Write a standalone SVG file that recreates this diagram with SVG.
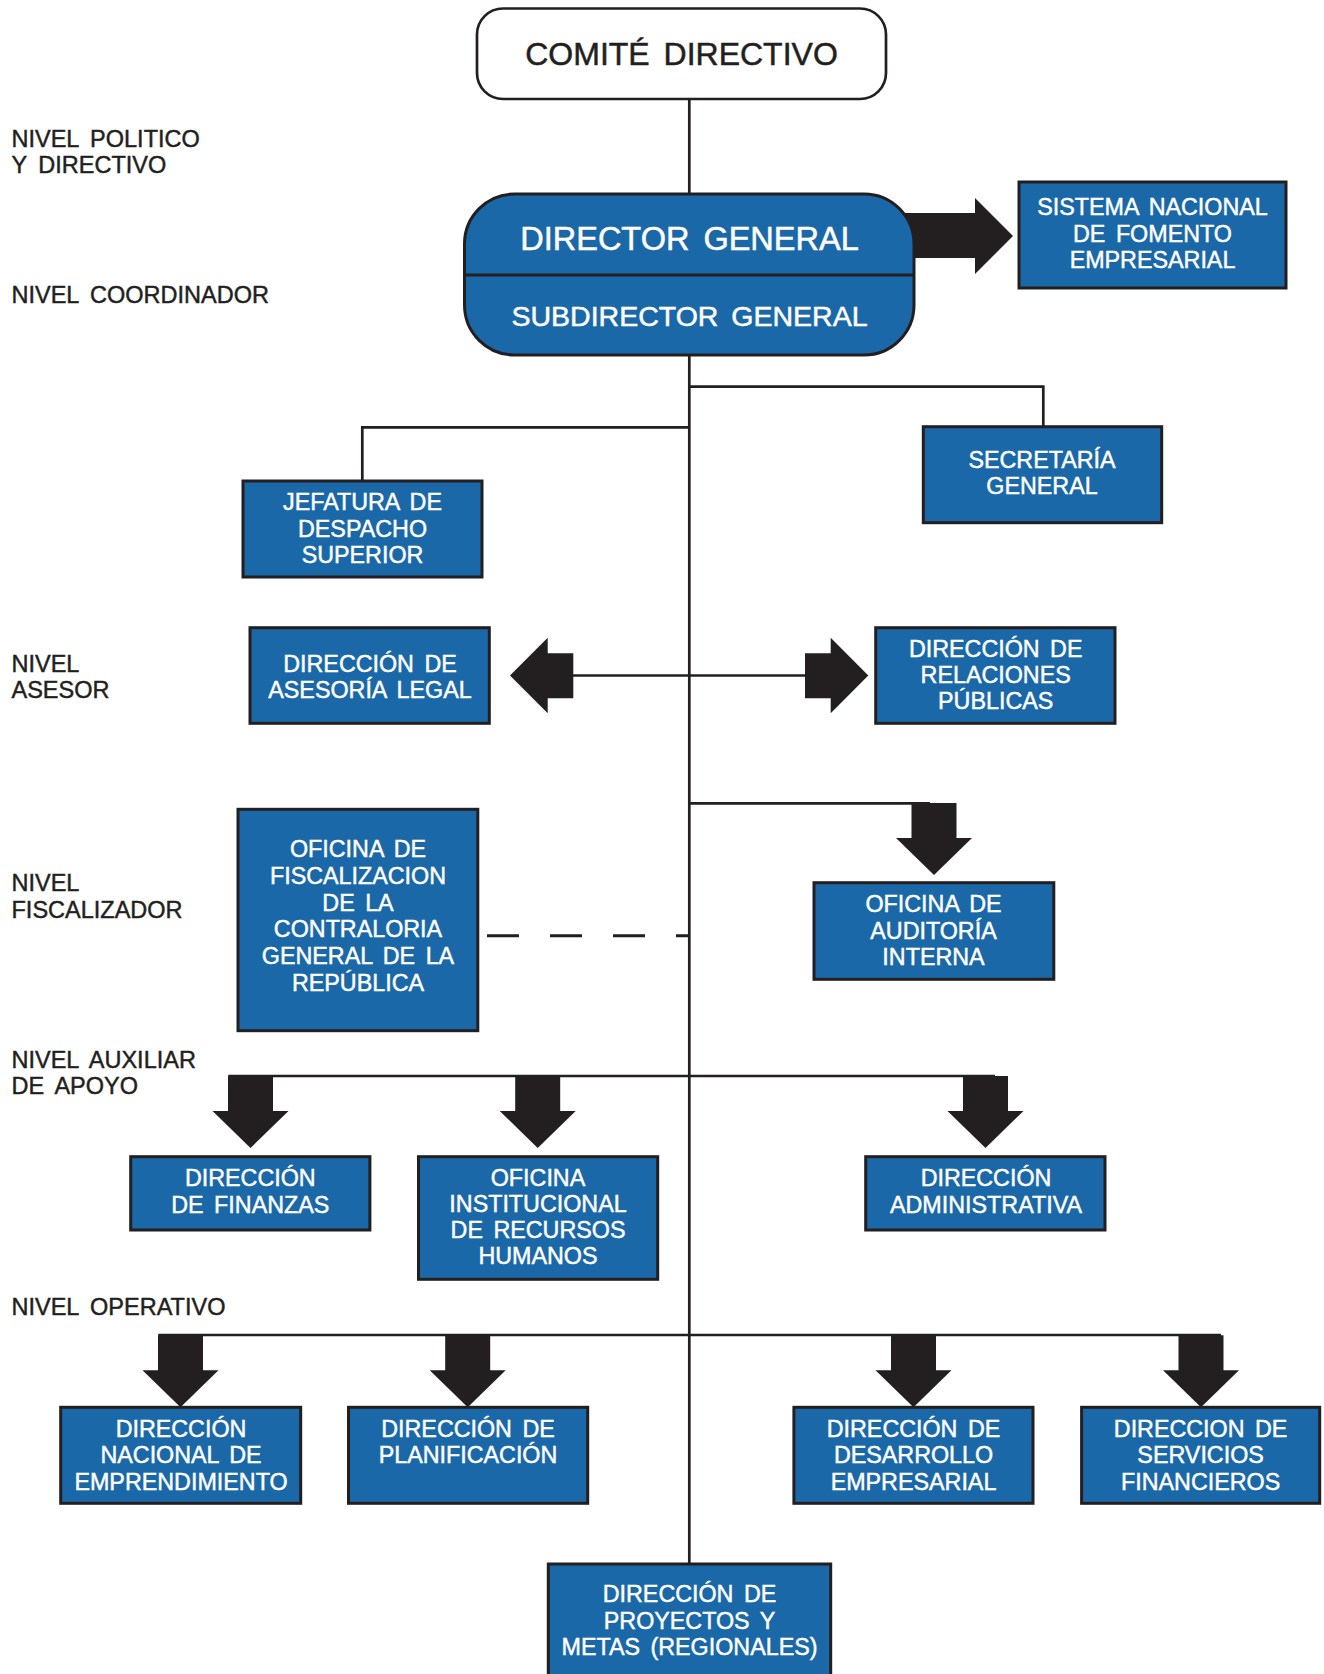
<svg xmlns="http://www.w3.org/2000/svg" width="1324" height="1674" viewBox="0 0 1324 1674">
<style>
.bg{fill:#ffffff}
.box{fill:#1b68a8;stroke:#231f20;stroke-width:3}
.ln{stroke:#231f20;stroke-width:2.7;fill:none}
.dash{stroke:#231f20;stroke-width:3;fill:none;stroke-dasharray:32 31}
.arr{fill:#231f20}
.t{font-family:"Liberation Sans",Arial,sans-serif;font-size:23.3px;fill:#ffffff;stroke:#ffffff;stroke-width:0.45;text-anchor:middle;word-spacing:4px}
.lbl{font-family:"Liberation Sans",Arial,sans-serif;font-size:23.5px;fill:#231f20;stroke:#231f20;stroke-width:0.45;word-spacing:5px}
.big{font-family:"Liberation Sans",Arial,sans-serif;text-anchor:middle;word-spacing:5px;stroke-width:0.5}
</style>
<defs>
<path id="ad" d="M-22.5,0 L22.5,0 L22.5,35 L38,35 L0,72 L-38,35 L-22.5,35 Z"/>
</defs>
<rect class="bg" x="0" y="0" width="1324" height="1674"/>

<g id="levels">
<text class="lbl" x="11.5" y="146.7">NIVEL POLITICO</text>
<text class="lbl" x="11.5" y="172.7">Y DIRECTIVO</text>
<text class="lbl" x="11.5" y="303.3">NIVEL COORDINADOR</text>
<text class="lbl" x="11.5" y="671.5">NIVEL</text>
<text class="lbl" x="11.5" y="698">ASESOR</text>
<text class="lbl" x="11.5" y="891.4">NIVEL</text>
<text class="lbl" x="11.5" y="918.2">FISCALIZADOR</text>
<text class="lbl" x="11.5" y="1067.8">NIVEL AUXILIAR</text>
<text class="lbl" x="11.5" y="1093.5">DE APOYO</text>
<text class="lbl" x="11.5" y="1314.5">NIVEL OPERATIVO</text>
</g>

<g id="connectors">
<line class="ln" x1="689.3" y1="99" x2="689.3" y2="1564"/>
<polyline class="ln" points="689.3,386.7 1043.3,386.7 1043.3,427"/>
<polyline class="ln" points="689.3,427.3 362.3,427.3 362.3,481"/>
<line class="ln" x1="573" y1="675.5" x2="806" y2="675.5"/>
<line class="ln" x1="689.3" y1="803.3" x2="930" y2="803.3"/>
<line class="dash" x1="487" y1="935.7" x2="689.3" y2="935.7"/>
<line class="ln" x1="228.3" y1="1076" x2="995" y2="1076"/>
<line class="ln" x1="158.3" y1="1335" x2="1221" y2="1335"/>
<polygon class="arr" points="900,213 975,213 975,198 1013,236 975,274 975,258 900,258"/>
<polygon class="arr" points="573.3,653.3 547.7,653.3 547.7,637.7 510,675.5 547.7,713.3 547.7,698.3 573.3,698.3"/>
<polygon class="arr" points="805,653.3 830.7,653.3 830.7,637.7 868.3,675.5 830.7,713.3 830.7,698.3 805,698.3"/>
<use href="#ad" class="arr" x="934" y="803"/>
<use href="#ad" class="arr" x="250.5" y="1076"/>
<use href="#ad" class="arr" x="537.7" y="1076"/>
<use href="#ad" class="arr" x="985.5" y="1076"/>
<use href="#ad" class="arr" x="180.5" y="1335.3"/>
<use href="#ad" class="arr" x="467.7" y="1335.3"/>
<use href="#ad" class="arr" x="913.5" y="1335.3"/>
<use href="#ad" class="arr" x="1201" y="1335.3"/>
</g>

<g id="comite">
<rect x="477" y="8.5" width="409" height="90.5" rx="26" fill="#ffffff" stroke="#231f20" stroke-width="2.7"/>
<text class="big" x="681.5" y="65" font-size="32" fill="#231f20" stroke="#231f20">COMITÉ DIRECTIVO</text>
</g>

<g id="director">
<rect class="box" x="464.5" y="194" width="449.5" height="161" rx="50"/>
<line x1="464.5" y1="275" x2="914" y2="275" stroke="#231f20" stroke-width="3"/>
<text class="big" x="689.5" y="250" font-size="32.5" fill="#ffffff" stroke="#ffffff">DIRECTOR GENERAL</text>
<text class="big" x="689.5" y="326" font-size="28.5" fill="#ffffff" stroke="#ffffff">SUBDIRECTOR GENERAL</text>
</g>

<g id="sistema">
<rect class="box" x="1019" y="182" width="267" height="106"/>
<text class="t" x="1152.5" y="215">SISTEMA NACIONAL</text>
<text class="t" x="1152.5" y="242">DE FOMENTO</text>
<text class="t" x="1152.5" y="268">EMPRESARIAL</text>
</g>

<g id="jefatura">
<rect class="box" x="243" y="481" width="239" height="96"/>
<text class="t" x="362.5" y="510">JEFATURA DE</text>
<text class="t" x="362.5" y="536.7">DESPACHO</text>
<text class="t" x="362.5" y="563.3">SUPERIOR</text>
</g>

<g id="secretaria">
<rect class="box" x="923.3" y="426.7" width="238.4" height="96"/>
<text class="t" x="1042" y="467.7">SECRETARÍA</text>
<text class="t" x="1042" y="494.3">GENERAL</text>
</g>

<g id="asesoria">
<rect class="box" x="250" y="627.7" width="239.3" height="95.6"/>
<text class="t" x="370" y="671.7">DIRECCIÓN DE</text>
<text class="t" x="370" y="697.7">ASESORÍA LEGAL</text>
</g>

<g id="relaciones">
<rect class="box" x="875.7" y="627.7" width="239.3" height="95.6"/>
<text class="t" x="995.7" y="656.7">DIRECCIÓN DE</text>
<text class="t" x="995.7" y="683.3">RELACIONES</text>
<text class="t" x="995.7" y="709.3">PÚBLICAS</text>
</g>

<g id="contraloria">
<rect class="box" x="238" y="809.3" width="239.8" height="221.4"/>
<text class="t" x="358" y="857.3">OFICINA DE</text>
<text class="t" x="358" y="884">FISCALIZACION</text>
<text class="t" x="358" y="910.7">DE LA</text>
<text class="t" x="358" y="937.3">CONTRALORIA</text>
<text class="t" x="358" y="964">GENERAL DE LA</text>
<text class="t" x="358" y="990.7">REPÚBLICA</text>
</g>

<g id="auditoria">
<rect class="box" x="814" y="882.7" width="239.8" height="96.6"/>
<text class="t" x="933.5" y="912.3">OFICINA DE</text>
<text class="t" x="933.5" y="938.5">AUDITORÍA</text>
<text class="t" x="933.5" y="965">INTERNA</text>
</g>

<g id="finanzas">
<rect class="box" x="130.7" y="1156.7" width="239.2" height="73.3"/>
<text class="t" x="250.3" y="1186">DIRECCIÓN</text>
<text class="t" x="250.3" y="1212.7">DE FINANZAS</text>
</g>

<g id="recursos">
<rect class="box" x="418.5" y="1156.7" width="239.2" height="122.6"/>
<text class="t" x="538" y="1186">OFICINA</text>
<text class="t" x="538" y="1212.3">INSTITUCIONAL</text>
<text class="t" x="538" y="1238.3">DE RECURSOS</text>
<text class="t" x="538" y="1264">HUMANOS</text>
</g>

<g id="administrativa">
<rect class="box" x="865.7" y="1156.7" width="239.3" height="73.3"/>
<text class="t" x="986" y="1186">DIRECCIÓN</text>
<text class="t" x="986" y="1212.7">ADMINISTRATIVA</text>
</g>

<g id="emprendimiento">
<rect class="box" x="60.7" y="1407.3" width="240" height="96"/>
<text class="t" x="181" y="1436.7">DIRECCIÓN</text>
<text class="t" x="181" y="1463.3">NACIONAL DE</text>
<text class="t" x="181" y="1490">EMPRENDIMIENTO</text>
</g>

<g id="planificacion">
<rect class="box" x="348.5" y="1407.3" width="239.2" height="96"/>
<text class="t" x="468" y="1436.7">DIRECCIÓN DE</text>
<text class="t" x="468" y="1463.3">PLANIFICACIÓN</text>
</g>

<g id="desarrollo">
<rect class="box" x="793.9" y="1407.3" width="239.1" height="96"/>
<text class="t" x="913.5" y="1436.7">DIRECCIÓN DE</text>
<text class="t" x="913.5" y="1463.3">DESARROLLO</text>
<text class="t" x="913.5" y="1490">EMPRESARIAL</text>
</g>

<g id="servicios">
<rect class="box" x="1081.6" y="1407.3" width="238.1" height="96"/>
<text class="t" x="1200.6" y="1436.7">DIRECCION DE</text>
<text class="t" x="1200.6" y="1463.3">SERVICIOS</text>
<text class="t" x="1200.6" y="1490">FINANCIEROS</text>
</g>

<g id="proyectos">
<rect class="box" x="548.3" y="1564" width="282.4" height="118"/>
<text class="t" x="689.5" y="1601.7">DIRECCIÓN DE</text>
<text class="t" x="689.5" y="1629.3">PROYECTOS Y</text>
<text class="t" x="689.5" y="1655">METAS (REGIONALES)</text>
</g>
</svg>
